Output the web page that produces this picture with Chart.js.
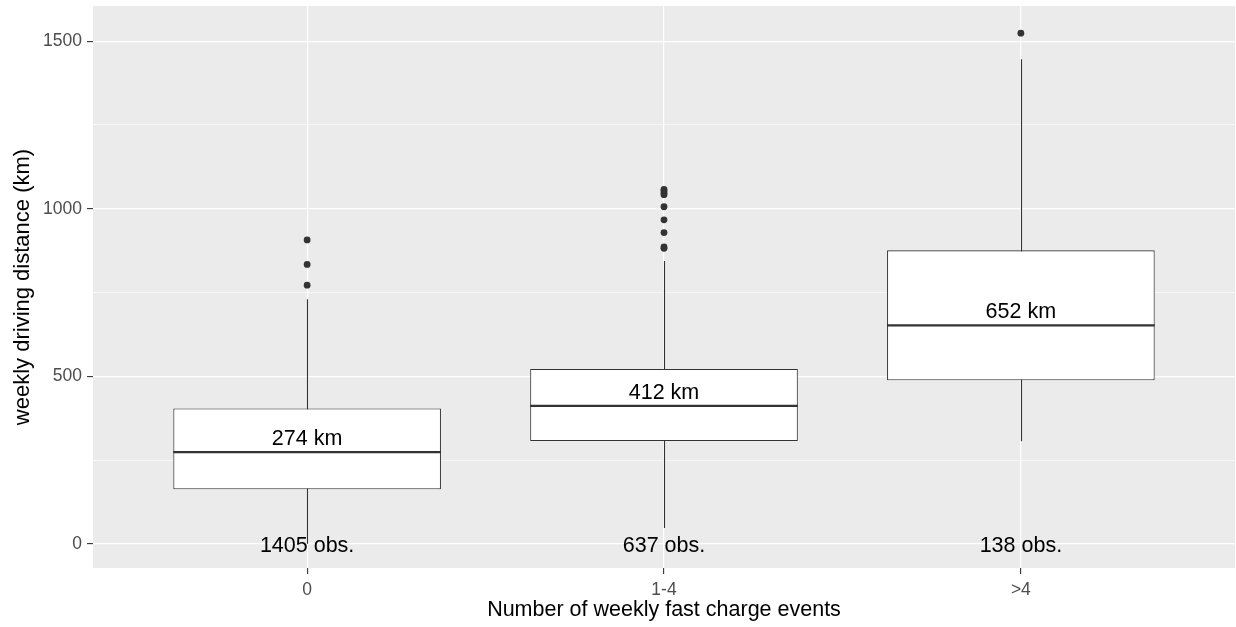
<!DOCTYPE html>
<html>
<head>
<meta charset="utf-8">
<title>Weekly driving distance by fast charge events</title>
<script src="https://cdn.jsdelivr.net/npm/chart.js@4.4.1/dist/chart.umd.min.js"></script>
<style>
  html, body { margin: 0; padding: 0; background: #fff; }
  #wrap { width: 1236px; height: 627px; position: relative; }
</style>
</head>
<body>
<div id="wrap"><canvas id="boxChart"></canvas></div>
<script>
// box statistics per group (km)
const categories = ['0', '1-4', '>4'];
const lowerWhisker = [0, 47, 306];
const lowerQuartile = [163, 307, 488];
const medians = [274, 412, 652];
const upperQuartile = [404, 522, 876];
const upperWhisker = [730, 844, 1446];
const obsCounts = [1405, 637, 138];
const outliers = [
    [772, 834, 907],
    [882, 886, 929, 967, 1006, 1042, 1047, 1053, 1058],
    [1524]
];
const yTicks = [0, 250, 500, 750, 1000, 1250, 1500];

const FONT = '"Liberation Sans", Arial, sans-serif';
const INK = '#333333';

// grey panel behind the grid
const panelBackground = {
    id: 'panelBackground',
    beforeDraw(chart) {
        const { ctx, chartArea: a } = chart;
        ctx.save();
        ctx.fillStyle = '#EBEBEB';
        ctx.fillRect(a.left, a.top, a.right - a.left, a.bottom - a.top);
        ctx.restore();
    }
};

// whiskers go under the boxes, medians and labels on top
const boxExtras = {
    id: 'boxExtras',
    beforeDatasetsDraw(chart) {
        const { ctx, scales: { x, y } } = chart;
        ctx.save();
        ctx.strokeStyle = INK;
        ctx.lineWidth = 1.1;
        categories.forEach((c, i) => {
            const px = Math.round(x.getPixelForValue(i)) + 0.5;
            ctx.beginPath();
            ctx.moveTo(px, y.getPixelForValue(lowerWhisker[i]));
            ctx.lineTo(px, y.getPixelForValue(upperWhisker[i]));
            ctx.stroke();
        });
        ctx.restore();
    },
    afterDatasetsDraw(chart) {
        const { ctx, scales: { x, y } } = chart;
        const bars = chart.getDatasetMeta(0).data;
        ctx.save();
        ctx.strokeStyle = INK;
        ctx.lineWidth = 2.2;
        bars.forEach((bar, i) => {
            const py = y.getPixelForValue(medians[i]);
            ctx.beginPath();
            ctx.moveTo(bar.x - bar.width / 2, py);
            ctx.lineTo(bar.x + bar.width / 2, py);
            ctx.stroke();
        });

        ctx.fillStyle = '#000';
        ctx.font = '21.5px ' + FONT;
        ctx.textAlign = 'center';
        categories.forEach((c, i) => {
            const px = x.getPixelForValue(i);
            ctx.textBaseline = 'alphabetic';
            ctx.fillText(medians[i] + ' km', px, y.getPixelForValue(medians[i]) - 7);
            ctx.textBaseline = 'middle';
            ctx.fillText(obsCounts[i] + ' obs.', px, y.getPixelForValue(0) + 2);
        });
        ctx.restore();
    }
};

const outlierPoints = [];
outliers.forEach((vals, i) => vals.forEach(v => outlierPoints.push({ x: i, y: v })));

const ctx = document.getElementById('boxChart').getContext('2d');
new Chart(ctx, {
    data: {
        datasets: [{
            type: 'bar',
            data: categories.map((c, i) => ({ x: i, y: [lowerQuartile[i], upperQuartile[i]] })),
            backgroundColor: '#FFFFFF',
            borderColor: INK,
            borderWidth: 1.1,
            borderSkipped: false,
            barPercentage: 0.75,
            categoryPercentage: 1,
            order: 2
        }, {
            type: 'scatter',
            data: outlierPoints,
            pointRadius: 3.4,
            pointBackgroundColor: INK,
            pointBorderWidth: 0,
            order: 1
        }]
    },
    options: {
        responsive: true,
        maintainAspectRatio: false,
        animation: false,
        layout: { autoPadding: false, padding: { top: 6, right: 1, left: 0, bottom: 0 } },
        plugins: {
            legend: { display: false },
            tooltip: { enabled: false }
        },
        scales: {
            x: {
                type: 'linear',
                min: -0.6,
                max: 2.6,
                offset: false,
                afterBuildTicks: s => { s.ticks = categories.map((c, i) => ({ value: i })); },
                afterFit: s => {
                    s.height = 59;
                    s.paddingLeft = 0;
                    s.paddingRight = 0;
                },
                border: { display: false },
                grid: { offset: false, color: '#FFFFFF', lineWidth: 1.2, tickColor: INK, tickLength: 6, tickWidth: 1.1 },
                ticks: {
                    autoSkip: false,
                    maxRotation: 0,
                    padding: 6,
                    color: '#4D4D4D',
                    font: { family: FONT, size: 17.5 },
                    callback: v => categories[v]
                },
                title: {
                    display: true,
                    text: 'Number of weekly fast charge events',
                    color: '#000',
                    font: { family: FONT, size: 21.5 },
                    padding: { top: 0, bottom: 4 }
                }
            },
            y: {
                type: 'linear',
                min: -72,
                max: 1605,
                afterBuildTicks: s => { s.ticks = yTicks.map(v => ({ value: v })); },
                afterFit: s => {
                    s.width = 93;
                    s.paddingTop = 0;
                    s.paddingBottom = 0;
                },
                border: { display: false },
                grid: {
                    color: '#FFFFFF',
                    lineWidth: c => (c.tick && c.tick.value % 500 === 0) ? 1.2 : 0.6,
                    tickColor: c => (c.tick && c.tick.value % 500 === 0) ? INK : 'rgba(0,0,0,0)',
                    tickLength: 6,
                    tickWidth: 1.1
                },
                ticks: {
                    autoSkip: false,
                    padding: 5,
                    color: '#4D4D4D',
                    font: { family: FONT, size: 17.5 },
                    callback: v => (v % 500 === 0 ? String(v) : '')
                },
                title: {
                    display: true,
                    text: 'weekly driving distance (km)',
                    color: '#000',
                    font: { family: FONT, size: 22 },
                    padding: { top: 10, bottom: 0 }
                }
            }
        }
    },
    plugins: [panelBackground, boxExtras]
});
</script>
</body>
</html>
